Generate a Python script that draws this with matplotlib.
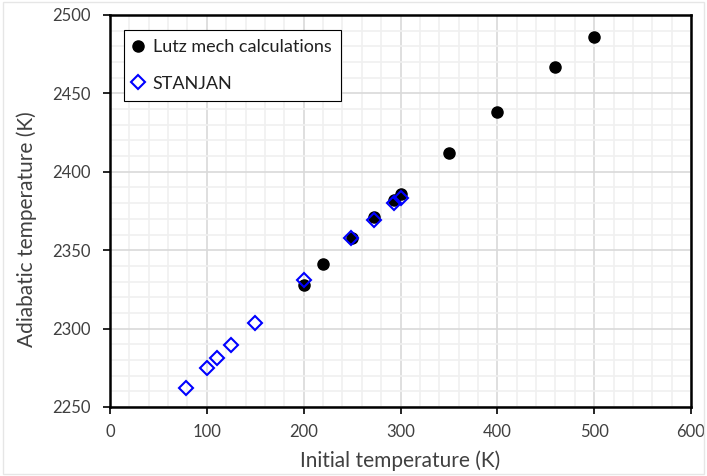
import matplotlib.pyplot as plt
from matplotlib.ticker import MultipleLocator
from matplotlib.patches import Rectangle

# Lutz mechanism results
lutz_T0 = [200, 220, 250, 273, 293, 300, 350, 400, 460, 500]
lutz_Tad = [2328, 2341, 2358, 2371, 2382, 2386, 2412, 2438, 2467, 2486]

# STANJAN results
stanjan_T0 = [78, 100, 110, 125, 150, 200, 249, 273, 293, 300]
stanjan_Tad = [2262, 2275, 2281.5, 2289.5, 2303.5, 2331, 2358, 2369, 2380, 2383]

plt.rcParams['font.family'] = ['Lato', 'DejaVu Sans']

fig = plt.figure(figsize=(7.07, 4.76), dpi=100)
ax = fig.add_axes([0.1556, 0.145, 0.8218, 0.8235])

# light border round the chart area, like the original
fig.patches.append(Rectangle((0.004, 0.004), 0.992, 0.992, transform=fig.transFigure,
                             fill=False, edgecolor='#e6e6e6', linewidth=1))

ax.plot(lutz_T0, lutz_Tad, 'o', color='black', markersize=8,
        linestyle='none', label='Lutz mech calculations', zorder=3)
ax.plot(stanjan_T0, stanjan_Tad, 'D', markerfacecolor='none', markeredgecolor='#0000ff',
        markeredgewidth=1.5, markersize=7.5, linestyle='none', label='STANJAN', zorder=4)

ax.set_xlim(0, 600)
ax.set_ylim(2250, 2500)
ax.xaxis.set_major_locator(MultipleLocator(100))
ax.xaxis.set_minor_locator(MultipleLocator(20))
ax.yaxis.set_major_locator(MultipleLocator(50))
ax.yaxis.set_minor_locator(MultipleLocator(10))

ax.grid(which='minor', color='#f0f0f0', linewidth=1.2, zorder=0)
ax.grid(which='major', color='#d9d9d9', linewidth=1.2, zorder=1)
ax.set_axisbelow(True)

ax.tick_params(which='major', direction='out', length=5, width=1.2, labelsize=12,
               colors='black', labelcolor='#404040')
ax.tick_params(axis='x', which='major', pad=7)
ax.tick_params(axis='y', which='major', pad=9)
ax.tick_params(which='minor', length=0)
for s in ax.spines.values():
    s.set_linewidth(1.8)
    s.set_color('black')

ax.set_xlabel('Initial temperature (K)', fontsize=15, color='#404040')
ax.set_ylabel('Adiabatic temperature (K)', fontsize=15, color='#404040')
ax.xaxis.set_label_coords(0.5, -0.11)
ax.yaxis.set_label_coords(-0.126, 0.455)

leg = ax.legend(loc='upper left', bbox_to_anchor=(0.024, 0.962), fontsize=13,
                frameon=True, fancybox=False, edgecolor='black', framealpha=1,
                handlelength=0.6, handletextpad=0.5, labelspacing=1.15,
                borderpad=0.5, borderaxespad=0)
leg.get_frame().set_linewidth(0.8)
for t in leg.get_texts():
    t.set_color('#202020')

fig.savefig('out.png', dpi=100)
